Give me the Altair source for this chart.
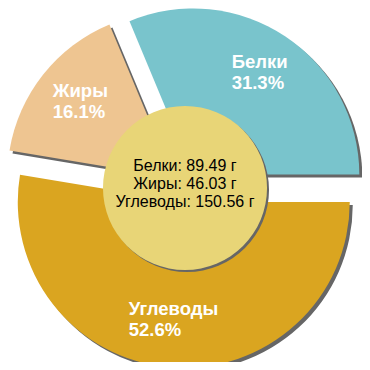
import math
import altair as alt
import pandas as pd

# ---- data ----
names = ["Белки", "Жиры", "Углеводы"]
grams = [89.49, 46.03, 150.56]
pie_order = [0, 2, 1]          # order of slices around the pie (clockwise)
colors = ["#79c4cc", "#eec591", "#daa520"]

# ---- layout / style constants ----
W = H = 354
CX, CY = 177, 179              # pie centre (chart pixels)
R = 166                        # slice radius
EXPLODE = 15                   # slice pull-out distance
HOLE_R = 82                    # centre disc radius
LABEL_R = 120                  # label distance from slice apex
LABEL_LH = 21
TWO_PI = 2 * math.pi
# rotate so that the first slice ends at 3 o'clock
START = math.pi / 2 - TWO_PI * grams[0] / sum(grams) + TWO_PI
FONT = "Liberation Sans, Arial, sans-serif"
SHADOW = "#666666"

df = pd.DataFrame({"name": names, "grams": grams, "order": pie_order})
center_df = pd.DataFrame({"txt": ["\n".join(f"{n}: {g:.2f} г" for n, g in zip(names, grams))]})

base = (
    alt.Chart(df)
    .transform_joinaggregate(total="sum(grams)")
    .transform_window(cum="sum(grams)", sort=[alt.SortField("order")], frame=[None, 0])
    .transform_calculate(
        frac="datum.grams / datum.total",
        t1=f"{START} + {TWO_PI} * datum.cum / datum.total",
    )
    .transform_calculate(
        t0=f"datum.t1 - {TWO_PI} * datum.frac",
        mid=f"datum.t1 - {math.pi} * datum.frac",
    )
    .transform_calculate(
        ox=f"{CX} + {EXPLODE} * sin(datum.mid)",
        oy=f"{CY} - {EXPLODE} * cos(datum.mid)",
    )
    .transform_calculate(
        bw="max(length(datum.name) * 11.3, 53)",
        label="datum.name + '\\n' + format(datum.frac * 100, '.1f') + '%'",
    )
    .transform_calculate(
        lx=f"datum.ox + {LABEL_R} * sin(datum.mid) - datum.bw / 2",
        ly=f"datum.oy - {LABEL_R} * cos(datum.mid) - 2 - {LABEL_LH / 2}",
    )
)

pos = dict(
    x=alt.X("ox:Q", scale=None, axis=None),
    y=alt.Y("oy:Q", scale=None, axis=None),
    theta=alt.Theta("t0:Q", scale=None, stack=False),
    theta2="t1:Q",
)

shadows = base.mark_arc(radius=R, xOffset=3, yOffset=3, color=SHADOW).encode(**pos)
slices = base.mark_arc(radius=R).encode(
    **pos,
    color=alt.Color("name:N", scale=alt.Scale(domain=names, range=colors), legend=None),
)
labels = base.mark_text(
    align="left", baseline="middle", lineBreak="\n", lineHeight=LABEL_LH,
    fontSize=18.5, fontWeight="bold", font=FONT, color="white",
).encode(
    x=alt.X("lx:Q", scale=None, axis=None),
    y=alt.Y("ly:Q", scale=None, axis=None),
    text="label:N",
)

disc_shadow = alt.Chart(center_df).mark_arc(
    radius=HOLE_R, theta=0, theta2=TWO_PI, color=SHADOW
).encode(x=alt.value(CX + 2), y=alt.value(CY + 3))
disc = alt.Chart(center_df).mark_arc(
    radius=HOLE_R, theta=0, theta2=TWO_PI, color="#e8d577"
).encode(x=alt.value(CX), y=alt.value(CY + 1))
center_text = alt.Chart(center_df).mark_text(
    align="center", baseline="middle", lineBreak="\n", lineHeight=18,
    fontSize=16, font=FONT, color="black",
).encode(x=alt.value(CX), y=alt.value(CY - 21), text="txt:N")

chart = (
    alt.layer(shadows, slices, labels, disc_shadow, disc, center_text)
    .properties(width=W, height=H, padding=0, autosize="none", background="white")
    .configure_view(stroke="transparent")
)

chart.save("out.html", embed_options={"renderer": "svg", "actions": False})
